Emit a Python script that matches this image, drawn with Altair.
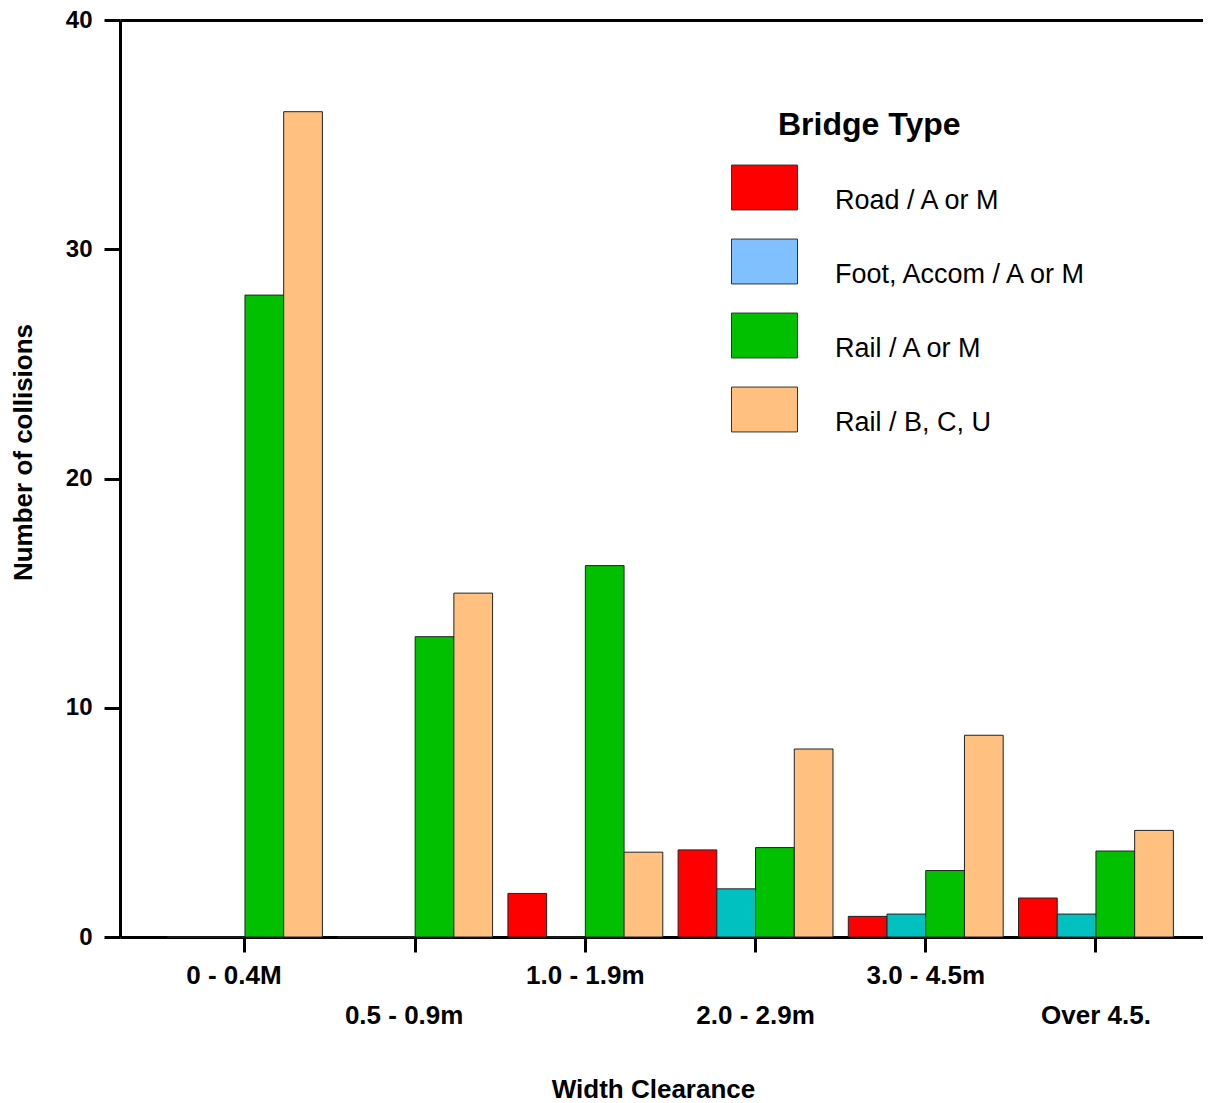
import altair as alt
import pandas as pd

FONT = "Liberation Sans"

widths = ["0 - 0.4M", "0.5 - 0.9m", "1.0 - 1.9m", "2.0 - 2.9m", "3.0 - 4.5m", "Over 4.5."]
types = ["Road / A or M", "Foot, Accom / A or M", "Rail / A or M", "Rail / B, C, U"]
road = [0, 0, 1.9, 3.8, 0.9, 1.7]
foot = [0, 0, 0, 2.1, 1.0, 1.0]
rail_am = [28, 13.1, 16.2, 3.9, 2.9, 3.75]
rail_bcu = [36, 15, 3.7, 8.2, 8.8, 4.65]

bar_fill = ["#FF0000", "#00C0C0", "#00C000", "#FFC080"]
legend_fill = ["#FF0000", "#80C0FF", "#00C000", "#FFC080"]

rows = []
for t, series in zip(types, [road, foot, rail_am, rail_bcu]):
    for w, v in zip(widths, series):
        rows.append({"width": w, "type": t, "value": v})
df = pd.DataFrame(rows)

lower_labels = widths[1::2]
lower_test = "indexof([" + ",".join("'" + s + "'" for s in lower_labels) + "], datum.value) >= 0"
shift_test = "indexof([" + ",".join("'" + s + "'" for s in widths[:2]) + "], datum.value) >= 0"

x_scale = alt.Scale(domain=widths, paddingInner=0.09, paddingOuter=0.2266, align=0.616)

bars = alt.Chart(df).mark_bar(stroke="#222222", strokeWidth=1).encode(
    x=alt.X(
        "width:N",
        sort=widths,
        scale=x_scale,
        axis=alt.Axis(
            orient="bottom",
            title="Width Clearance",
            titleFont=FONT, titleFontSize=26, titleFontWeight="bold", titleColor="black",
            titlePadding=48, titleX=533,
            labelFont=FONT, labelFontSize=26, labelFontWeight="bold", labelColor="black",
            labelAngle=0, labelOverlap=False, labelLimit=400,
            labelPadding={"condition": {"test": lower_test, "value": 50}, "value": 10},
            labelOffset={"condition": {"test": shift_test, "value": -11}, "value": 0},
            tickSize=15, tickWidth=3, tickColor="black",
            domainWidth=3, domainColor="black", grid=False,
        ),
    ),
    xOffset=alt.XOffset("type:N", sort=types,
                        scale=alt.Scale(domain=types, paddingInner=0, paddingOuter=0)),
    y=alt.Y(
        "value:Q",
        scale=alt.Scale(domain=[0, 40], nice=False),
        axis=alt.Axis(
            values=[0, 10, 20, 30, 40],
            title="Number of collisions",
            titleFont=FONT, titleFontSize=26, titleFontWeight="bold", titleColor="black",
            titlePadding=29, titleY=432,
            labelFont=FONT, labelFontSize=24, labelFontWeight="bold", labelColor="black",
            labelPadding=12,
            tickSize=16, tickWidth=3, tickColor="black",
            domainWidth=3, domainColor="black", grid=False,
        ),
    ),
    # fill scale domain is taken from the data (sorted), so that it is not
    # merged with the legend's colour scale below
    fill=alt.Fill("type:N", sort=types, scale=alt.Scale(range=bar_fill), legend=None),
)

legend_layer = alt.Chart(df).transform_filter("datum.value < 0").mark_point(
    filled=True, opacity=1
).encode(
    x=alt.X(
        "width:N",
        sort=widths,
        scale=x_scale,
        axis=alt.Axis(orient="top", labels=False, ticks=False, title=None,
                      domainWidth=3, domainColor="black", grid=False),
    ),
    color=alt.Color(
        "type:N",
        scale=alt.Scale(domain=types, range=legend_fill),
        legend=alt.Legend(
            title=None, orient="none", legendX=611, legendY=134, padding=0,
            symbolType="M-1,-0.68H1V0.68H-1Z", symbolSize=4356,
            symbolStrokeColor="#333333", symbolStrokeWidth=1, symbolOpacity=1,
            labelFont=FONT, labelFontSize=27, labelColor="black",
            labelOffset=37, labelBaseline="top", labelLimit=500,
            rowPadding=14,
        ),
    ),
)

chart = alt.layer(bars, legend_layer).resolve_axis(x="independent").properties(
    width=1083,
    height=917,
    padding={"left": 112, "top": 12, "right": 0, "bottom": 166},
    autosize=alt.AutoSizeParams(type="none"),
    title=alt.TitleParams(
        "Bridge Type", font=FONT, fontSize=32, fontWeight="bold", color="black",
        anchor="start", frame="group", orient="top", offset=0,
        baseline="alphabetic", dx=658, dy=159,
    ),
).configure_view(stroke=None)

chart.save("out.html", embed_options={"renderer": "svg", "actions": False})
